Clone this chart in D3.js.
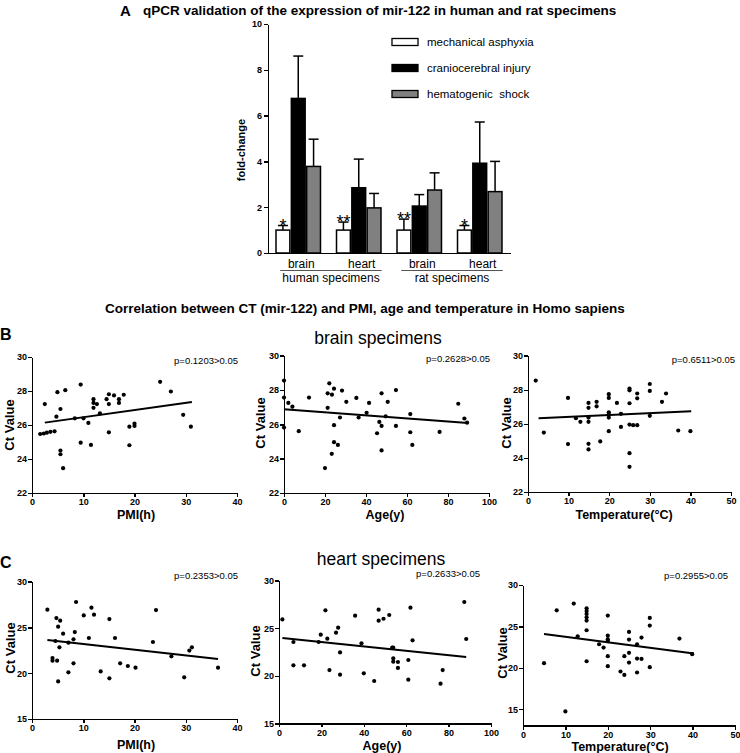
<!DOCTYPE html>
<html><head><meta charset="utf-8">
<script src="https://cdn.jsdelivr.net/npm/d3@7"></script>
<style>
body{margin:0;background:#fff}
text{font-family:Arial,"Liberation Sans",Helvetica,sans-serif;fill:#000}
.ax path,.ax line{stroke:#000;stroke-width:1.5;shape-rendering:crispEdges}
.ax text{font-size:9px;font-weight:bold;font-family:Arial,"Liberation Sans",sans-serif}
</style>
</head><body>
<svg id="c" width="740" height="753" xmlns="http://www.w3.org/2000/svg"></svg>
<script>
// ---------- Panel A data ----------
const groups = ["human brain","human heart","rat brain","rat heart"];
const groupLabels = ["brain","heart","brain","heart"];
const speciesLabels = ["human specimens","rat specimens"];
const series = ["mechanical asphyxia","craniocerebral injury","hematogenic  shock"];
const seriesFill = ["#ffffff","#000000","#808080"];
const foldMA  = [1.0, 1.0, 1.0, 1.0];
const errMA   = [0.2, 0.35, 0.48, 0.2];
const foldCI  = [6.75, 2.85, 2.05, 3.92];
const errCI   = [1.85, 1.25, 0.5, 1.8];
const foldHS  = [3.78, 1.97, 2.75, 2.68];
const errHS   = [1.19, 0.63, 0.75, 1.32];
const signif  = ["*","**","**","*"];
const foldTicks = [0,2,4,6,8,10];

// ---------- Panel B data (brain) ----------
const bPmi = [[2.5,27.23],[1.6,25.47],[2.3,25.5],[2.9,25.55],[3.6,25.6],[4.4,25.63],[4.96,27.93],[5.55,26.94],[4.76,26.49],
  [5.55,24.5],[5.55,24.28],[6.07,23.46],[6.5,28.05],[8.35,26.39],[9.5,28.38],[9.5,24.96],[10.05,26.39],[11.0,26.12],
  [11.5,24.83],[12.0,27.52],[12.0,27.3],[12.0,27.01],[12.66,27.23],[13.25,26.68],[14.55,27.52],[15.0,27.81],[15.0,27.23],
  [15.0,25.57],[16.0,27.74],[16.97,27.52],[16.97,27.3],[17.9,27.78],[19.0,25.9],[19.0,24.81],[20.0,26.08],[20.0,25.94],
  [25.0,28.54],[27.1,27.97],[29.5,26.6],[31.0,25.9]];
const bPmiFit = [[2.5,26.14],[31.2,27.35]];
const bAge = [[0,28.55],[0,27.56],[0,25.81],[2.1,27.25],[4.1,27.03],[7.2,25.6],[12.2,27.56],[20,23.45],[21.3,26.96],
  [21.3,27.81],[22.1,28.39],[23.4,27.73],[23.3,24.28],[24.4,28.08],[24.4,25.95],[24.4,24.96],[26.3,24.8],[27.3,26.4],
  [28.3,27.97],[30.4,27.31],[35.3,27.54],[36.4,26.4],[40.3,26.67],[41.5,27.25],[45.4,25.48],[46.5,26.14],[47.6,27.81],
  [47.6,25.91],[47.6,24.48],[49.6,26.47],[50.6,27.31],[54.6,28.0],[54.6,25.91],[61.6,26.6],[61.6,25.54],[62.6,24.8],
  [75.9,25.56],[85.0,27.2],[88.0,26.34],[89.3,26.1]];
const bAgeFit = [[0,26.88],[89.8,26.08]];
const bTemp = [[1.9,28.54],[3.9,25.49],[9.85,27.52],[9.85,24.81],[11.8,26.33],[12.9,26.12],[14.9,27.23],[14.9,26.94],
  [14.9,26.37],[14.9,26.12],[14.9,24.83],[14.9,24.5],[16.9,27.29],[16.9,27.03],[17.8,24.97],[19.9,27.74],[19.9,27.52],
  [19.9,26.68],[19.9,26.55],[19.9,26.37],[19.9,25.57],[21.9,27.23],[22.9,25.82],[22.9,26.59],[25,28.07],[25,27.97],
  [25,27.21],[25,25.96],[25,24.28],[25,23.48],[25.9,25.92],[26.9,25.92],[26.9,27.78],[26.9,27.5],[30,28.34],[30,27.93],
  [30,26.47],[33,27.29],[34,27.78],[37,25.61],[40,25.57]];
const bTempFit = [[2.6,26.33],[40.2,26.74]];

// ---------- Panel C data (heart) ----------
const cPmi = [[3.0,26.94],[4.76,26.03],[5.5,25.74],[5.1,25.09],[6.07,24.32],[8.35,24.5],[8.6,27.78],[10.1,26.32],
  [11.6,27.16],[12.1,26.4],[11.1,23.85],[8.1,23.7],[7.1,23.34],[4.57,23.52],[5.35,22.83],[4.0,21.66],[4.0,21.37],
  [4.9,21.37],[5.1,19.11],[7.1,20.1],[8.1,21.08],[13.4,20.2],[15.1,25.92],[15.1,19.44],[16.2,23.85],[17.2,21.08],
  [18.7,20.79],[20.2,20.61],[23.6,23.41],[24.2,26.9],[27.2,21.85],[29.7,19.55],[30.7,22.47],[31.2,22.83],[36.3,20.61]];
const cPmiFit = [[3.0,23.63],[36.3,21.55]];
const cAge = [[1.6,25.93],[6.8,23.55],[6.8,21.1],[11.8,21.1],[18.7,23.55],[19.7,24.32],[21.9,26.88],[22.8,23.9],
  [23.8,20.6],[26.9,24.53],[27.9,25.06],[28.8,22.46],[28.8,20.12],[35.9,26.32],[38.9,23.41],[40.0,20.26],[44.9,19.45],
  [47.0,26.95],[47.0,25.79],[49.3,26.0],[52.0,26.39],[53.4,22.95],[53.9,22.95],[53.9,21.83],[53.9,21.48],[56.1,21.45],
  [56.1,20.82],[61.0,21.66],[61.0,19.59],[62.0,27.16],[63.0,23.73],[76.2,19.17],[77.2,20.6],[87.4,27.76],[88.3,23.87]];
const cAgeFit = [[1.6,23.97],[88.3,21.97]];
const cTemp = [[4.96,20.55],[7.95,26.94],[10.0,14.72],[11.97,27.75],[12.9,23.81],[15,27.19],[15,26.86],[15,26.5],
  [15,26.1],[15,25.7],[15,24.53],[15,20.79],[17.95,22.84],[19.0,22.44],[20,26.3],[20,23.89],[20,23.45],[20,23.25],
  [20,21.4],[20,20.19],[23,19.55],[23.9,19.14],[23.9,21.4],[25,24.33],[25,23.4],[25,21.8],[25,20.63],[26.9,22.84],
  [26.9,21.11],[26.9,19.43],[27.95,23.65],[27.95,21.07],[29.9,26.02],[29.9,25.1],[29.9,20.07],[36.9,23.53],[39.9,21.64]];
const cTempFit = [[4.96,24.09],[40.3,21.72]];

const pmiTicks = [0,10,20,30,40];
const ageTicks = [0,20,40,60,80,100];
const tempTicks = [0,10,20,30,40,50];
const brainCtTicks = [22,24,26,28,30];
const heartCtTicks = [15,20,25,30];
const pValues = ["p=0.1203>0.05","p=0.2628>0.05","p=0.6511>0.05","p=0.2353>0.05","p=0.2633>0.05","p=0.2955>0.05"];
const xLabels = ["PMI(h)","Age(y)","Temperature(°C)"];

const svg = d3.select("#c");

// ---------- Titles ----------
svg.append("text").attr("x",120).attr("y",16).attr("font-size",15).attr("font-weight","bold").text("A");
svg.append("text").attr("x",143).attr("y",15).attr("font-size",13.5).attr("font-weight","bold")
  .text("qPCR validation of the expression of mir-122 in human and rat specimens");
svg.append("text").attr("x",105).attr("y",313).attr("font-size",13.5).attr("font-weight","bold")
  .text("Correlation between CT (mir-122) and PMI, age and temperature in Homo sapiens");
svg.append("text").attr("x",0).attr("y",340).attr("font-size",16).attr("font-weight","bold").text("B");
svg.append("text").attr("x",0).attr("y",568).attr("font-size",16).attr("font-weight","bold").text("C");
svg.append("text").attr("x",378).attr("y",344).attr("font-size",17.5).attr("text-anchor","middle").text("brain specimens");
svg.append("text").attr("x",381).attr("y",565).attr("font-size",17.5).attr("text-anchor","middle").text("heart specimens");

// ---------- Panel A bar chart ----------
(function(){
  const x0 = d3.scaleBand().domain(groups).range([268,510]).paddingInner(0.24).paddingOuter(0.12);
  const x1 = d3.scaleBand().domain(series).range([0,x0.bandwidth()]);
  const y = d3.scaleLinear().domain([0,10]).range([253,24]);
  const vals = [foldMA, foldCI, foldHS];
  const errs = [errMA, errCI, errHS];
  const g = svg.append("g");
  groups.forEach((grp,gi)=>{
    series.forEach((s,si)=>{
      const bx = x0(grp)+x1(s), bw = x1.bandwidth();
      const v = vals[si][gi], e = errs[si][gi];
      const cx = bx + bw/2;
      g.append("line").attr("x1",cx).attr("x2",cx).attr("y1",y(v)).attr("y2",y(v+e)).attr("stroke","#000").attr("stroke-width",1.5);
      g.append("line").attr("x1",cx-5).attr("x2",cx+5).attr("y1",y(v+e)).attr("y2",y(v+e)).attr("stroke","#000").attr("stroke-width",1.5);
      g.append("rect").attr("x",bx+0.75).attr("y",y(v)).attr("width",bw-1.5).attr("height",y(0)-y(v))
        .attr("fill",seriesFill[si]).attr("stroke","#000").attr("stroke-width",1.5);
      if(si===0){
        g.append("text").attr("x",cx).attr("y",y(v+e)+6).attr("text-anchor","middle").attr("font-size",18).text(signif[gi]);
      }
    });
  });
  svg.append("g").attr("class","ax").attr("transform","translate(268,0)")
    .call(d3.axisLeft(y).tickValues(foldTicks).tickSize(4).tickPadding(2).tickSizeOuter(0));
  svg.append("g").attr("class","ax").attr("transform","translate(0,253)")
    .call(d3.axisBottom(x0).tickValues([]).tickSizeOuter(0));
  svg.append("text").attr("transform","translate(245,150) rotate(-90)").attr("text-anchor","middle")
    .attr("font-size",11).attr("font-weight","bold").text("fold-change");
  groups.forEach((grp,gi)=>{
    svg.append("text").attr("x",x0(grp)+x0.bandwidth()/2+3).attr("y",268).attr("text-anchor","middle")
      .attr("font-size",12).text(groupLabels[gi]);
  });
  [[0,1],[2,3]].forEach((pair,i)=>{
    const a = x0(groups[pair[0]])+5, b = x0(groups[pair[1]])+x0.bandwidth();
    svg.append("line").attr("x1",a).attr("x2",b).attr("y1",270.5).attr("y2",270.5).attr("stroke","#555").attr("stroke-width",1);
    svg.append("text").attr("x",(a+b)/2).attr("y",282).attr("text-anchor","middle").attr("font-size",12).text(speciesLabels[i]);
  });
  // legend
  series.forEach((s,i)=>{
    const ly = 42 + i*26;
    svg.append("rect").attr("x",392).attr("y",ly-3.5).attr("width",26).attr("height",7)
      .attr("fill",seriesFill[i]).attr("stroke","#000").attr("stroke-width",1.3);
    svg.append("text").attr("x",427).attr("y",ly+4).attr("font-size",11.5).style("white-space","pre").text(s);
  });
})();

// ---------- Scatter panels ----------
function scatter(cfg, pts, fit, xTicks, yTicks, xlabel, p){
  const x = d3.scaleLinear().domain(cfg.xd).range([cfg.x0,cfg.x1]);
  const y = d3.scaleLinear().domain(cfg.yd).range([cfg.yb,cfg.yt]);
  const g = svg.append("g");
  g.append("g").attr("class","ax").attr("transform",`translate(0,${cfg.yb})`)
    .call(d3.axisBottom(x).tickValues(xTicks).tickSize(4).tickPadding(2).tickSizeOuter(0));
  g.append("g").attr("class","ax").attr("transform",`translate(${cfg.x0},0)`)
    .call(d3.axisLeft(y).tickValues(yTicks).tickSize(4).tickPadding(1).tickSizeOuter(0));
  g.selectAll("circle.pt").data(pts).join("circle").attr("class","pt")
    .attr("cx",d=>x(d[0])).attr("cy",d=>y(d[1])).attr("r",2.1).attr("fill","#000");
  g.append("path").datum(fit).attr("d",d3.line().x(d=>x(d[0])).y(d=>y(d[1])))
    .attr("stroke","#000").attr("stroke-width",2).attr("fill","none");
  g.append("text").attr("x",cfg.px).attr("y",cfg.py).attr("text-anchor","end").attr("font-size",9.5).text(p);
  g.append("text").attr("x",cfg.lx).attr("y",cfg.ly).attr("text-anchor","middle").attr("font-size",12.5).attr("font-weight","bold").text(xlabel);
  g.append("text").attr("transform",`translate(${cfg.cx},${cfg.cy}) rotate(-90)`).attr("text-anchor","middle")
    .attr("dy","0.35em").attr("font-size",13).attr("font-weight","bold").text("Ct Value");
}

scatter({xd:[0,40],yd:[22,30],x0:32,x1:237,yb:493,yt:357,px:238,py:364,lx:136,ly:519,cx:9,cy:425},
  bPmi,bPmiFit,pmiTicks,brainCtTicks,xLabels[0],pValues[0]);
scatter({xd:[0,100],yd:[22,30],x0:284,x1:489,yb:493,yt:355.7,px:490,py:362,lx:385,ly:519,cx:260,cy:423},
  bAge,bAgeFit,ageTicks,brainCtTicks,xLabels[1],pValues[1]);
scatter({xd:[0,50],yd:[22,30],x0:528,x1:731,yb:492,yt:355.7,px:735,py:363,lx:624,ly:519,cx:506,cy:423},
  bTemp,bTempFit,tempTicks,brainCtTicks,xLabels[2],pValues[2]);
scatter({xd:[0,40],yd:[15,30],x0:32,x1:237,yb:719,yt:581.7,px:238,py:579,lx:136,ly:749,cx:10,cy:648},
  cPmi,cPmiFit,pmiTicks,heartCtTicks,xLabels[0],pValues[3]);
scatter({xd:[0,100],yd:[15,30],x0:279,x1:491,yb:723.3,yt:580.7,px:480,py:577,lx:382,ly:750,cx:255,cy:651},
  cAge,cAgeFit,ageTicks,heartCtTicks,xLabels[1],pValues[4]);
scatter({xd:[0,50],yd:[13,30],x0:523,x1:735,yb:725.7,yt:585,px:728,py:579,lx:620,ly:751,cx:502,cy:653},
  cTemp,cTempFit,tempTicks,heartCtTicks,xLabels[2],pValues[5]);
</script>
</body></html>
